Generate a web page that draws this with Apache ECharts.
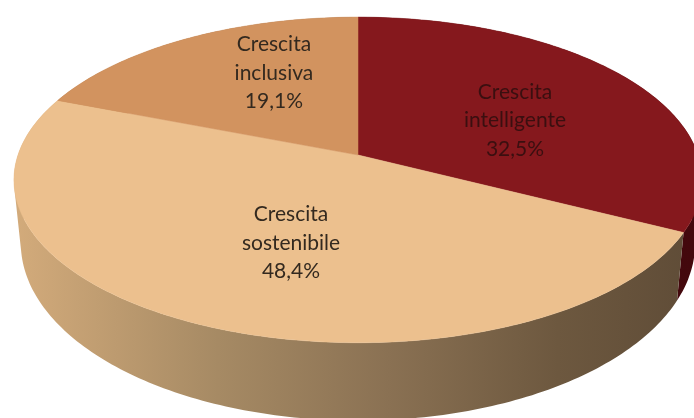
<!DOCTYPE html>
<html>
<head>
<meta charset="utf-8">
<style>html,body{margin:0;padding:0;background:#fff}#chart{width:694px;height:418px}</style>
<script src="https://cdn.jsdelivr.net/npm/echarts@6/dist/echarts.min.js"></script>
</head>
<body>
<div id="chart"></div>
<script>
// Shares of the budget by growth objective, clockwise from twelve o'clock.
const categories = ['Crescita\nintelligente', 'Crescita\nsostenibile', 'Crescita\ninclusiva'];
const shares = [32.5, 48.4, 19.1];

const topColors = ['#85181d', '#ecc08e', '#d2935f'];
const sideStops = [
  [[0, '#5a0d13'], [1, '#43080d']],
  [[0, '#d3ab7b'], [0.3, '#a68a64'], [0.55, '#8a7153'], [0.8, '#6d583f'], [1, '#5f4c37']],
  [[0, '#b07c50'], [1, '#6f4d30']]
];
const labelNudges = [[-9, 13], [24, -7], [23, -9]];

// Perspective projection of the pie's unit disc onto the page.
const apex = [358, 155];
const radiusX = 340;
const radiusY = 159;
const tilt = 0.153;
const baseScaleX = 0.98;
const baseScaleY = 1.09;
const baseCentreY = 216;

const total = shares.reduce((a, b) => a + b, 0);

function discPoint(angle, r) {
  const u = r * Math.sin(angle);
  const v = -r * Math.cos(angle);
  const w = 1 - tilt * v;
  return [apex[0] + radiusX * u / w, apex[1] + radiusY * v / w];
}
function basePoint(angle) {
  const p = discPoint(angle, 1);
  return [apex[0] + baseScaleX * (p[0] - apex[0]), baseCentreY + baseScaleY * (p[1] - apex[1])];
}
function sliceSpan(index) {
  let before = 0;
  for (let i = 0; i < index; i++) before += shares[i];
  const start = before / total * Math.PI * 2;
  return [start, start + shares[index] / total * Math.PI * 2];
}
function arc(span, project) {
  const steps = Math.max(8, Math.ceil((span[1] - span[0]) * 60));
  const pts = [];
  for (let i = 0; i <= steps; i++) pts.push(project(span[0] + (span[1] - span[0]) * i / steps));
  return pts;
}

// The outer wall is one compound path of narrow quads, so its silhouette follows
// the tangent between the top rim and the smaller base rim without any seams.
function renderSide(params) {
  const span = sliceSpan(params.dataIndex);
  const rim = arc(span, a => discPoint(a, 1));
  const base = arc(span, basePoint);
  const stops = sideStops[params.dataIndex].map(s => ({ offset: s[0], color: s[1] }));
  const fill = new echarts.graphic.LinearGradient(14, 0, 694, 0, stops, true);
  const fmt = p => p[0].toFixed(2) + ' ' + p[1].toFixed(2);
  let pathData = '';
  for (let i = 0; i < rim.length - 1; i++) {
    const a = rim[i], b = rim[i + 1], c = base[i + 1], d = base[i];
    // Keep a single winding direction so overlapping quads do not cancel out.
    const area = (b[0] - a[0]) * (d[1] - a[1]) - (b[1] - a[1]) * (d[0] - a[0]);
    const quad = area >= 0 ? [a, b, c, d] : [d, c, b, a];
    pathData += 'M' + fmt(quad[0]) + 'L' + fmt(quad[1]) + 'L' + fmt(quad[2]) + 'L' + fmt(quad[3]) + 'Z';
  }
  return { type: 'path', shape: { pathData }, style: { fill } };
}

function renderTop(params) {
  const i = params.dataIndex;
  const span = sliceSpan(i);
  const points = [discPoint(0, 0)].concat(arc(span, a => discPoint(a, 1)));
  const mid = discPoint((span[0] + span[1]) / 2, 0.6);
  const text = categories[i] + '\n' + shares[i].toFixed(1).replace('.', ',') + '%';
  return {
    type: 'group',
    children: [
      { type: 'polygon', shape: { points },
        style: { fill: topColors[i], stroke: topColors[i], lineWidth: 0.5 } },
      { type: 'text', z2: 10,
        x: mid[0] + labelNudges[i][0], y: mid[1] + labelNudges[i][1],
        style: { text, fill: i === 0 ? '#3a0f10' : '#33291f', align: 'center', verticalAlign: 'middle',
          font: '21px Lato, sans-serif', lineHeight: 28.5 } }
    ]
  };
}

const chart = echarts.init(document.getElementById('chart'), null, { renderer: 'canvas' });
chart.setOption({
  backgroundColor: '#fff',
  animation: false,
  series: [
    { type: 'custom', coordinateSystem: 'none', z: 1, silent: true, data: shares, renderItem: renderSide },
    { type: 'custom', coordinateSystem: 'none', z: 2, silent: true, data: shares, renderItem: renderTop }
  ]
});
</script>
</body>
</html>
